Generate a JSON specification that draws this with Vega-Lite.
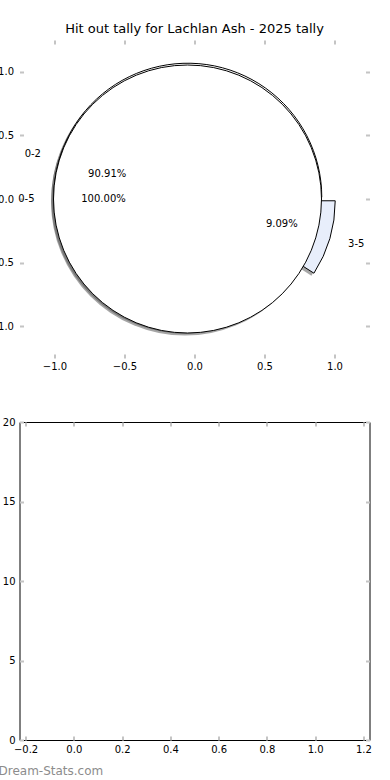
{
  "$schema": "https://vega.github.io/schema/vega-lite/v6.json",
  "autosize": {"type": "pad"},
  "padding": {"left": -11.5, "top": 23, "right": 0, "bottom": 0},
  "bounds": "flush",
  "spacing": 64,
  "title": {
    "text": "Dream-Stats.com",
    "orient": "bottom",
    "anchor": "start",
    "frame": "group",
    "dx": -21,
    "offset": 10.5,
    "font": "DejaVu Sans",
    "fontSize": 12,
    "fontWeight": "normal",
    "color": "#8c8c8c"
  },
  "datasets": {
    "split": [
      {"range": "0-2", "share": 0.9091},
      {"range": "3-5", "share": 0.0909}
    ],
    "whole": [
      {"range": "0-5", "share": 1.0}
    ]
  },
  "vconcat": [
    {
      "width": 350,
      "height": 318,
      "title": {
        "text": "Hit out tally for Lachlan Ash - 2025 tally",
        "anchor": "middle",
        "frame": "group",
        "offset": 4,
        "font": "DejaVu Sans",
        "fontSize": 13,
        "fontWeight": "normal",
        "color": "#000000"
      },
      "view": {"stroke": null},
      "encoding": {
        "theta": {
          "field": "share",
          "type": "quantitative",
          "stack": true,
          "scale": {"domain": [0, 1], "range": [1.5707963267948966, -4.71238898038469]}
        },
        "order": {"field": "range", "type": "ordinal", "sort": "ascending"}
      },
      "layer": [
        {
          "data": {"name": "split"},
          "mark": {"type": "arc", "outerRadius": 134, "fill": "#4d4d4d", "fillOpacity": 0.5, "xOffset": -2.5, "yOffset": 2.5},
          "encoding": {
            "x": {
              "datum": -0.048, "type": "quantitative",
              "scale": {"domain": [-1.25, 1.25], "nice": false, "zero": false},
              "axis": {"title": null, "values": [-1, -0.5, 0, 0.5, 1], "format": ".1f", "grid": true, "gridDash": [4, 310], "labelPadding": 3.5}
            },
            "y": {
              "datum": 0.014, "type": "quantitative",
              "scale": {"domain": [-1.25, 1.25], "nice": false, "zero": false},
              "axis": {"title": null, "values": [-1, -0.5, 0, 0.5, 1], "format": ".1f", "grid": true, "gridDash": [4, 342], "labelPadding": 6}
            },
            "opacity": {"condition": {"test": "datum.range === '0-2'", "value": 1}, "value": 0}
          }
        },
        {
          "data": {"name": "split"},
          "mark": {"type": "arc", "outerRadius": 134, "fill": "#4d4d4d", "fillOpacity": 0.5, "xOffset": -2.5, "yOffset": 2.5},
          "encoding": {
            "x": {"datum": 0.048, "type": "quantitative", "axis": {"title": null}},
            "y": {"datum": -0.014, "type": "quantitative", "axis": {"title": null}},
            "opacity": {"condition": {"test": "datum.range === '3-5'", "value": 1}, "value": 0}
          }
        },
        {
          "data": {"name": "whole"},
          "mark": {"type": "arc", "outerRadius": 134, "fill": "#4d4d4d", "fillOpacity": 0.5, "xOffset": -2.5, "yOffset": 2.5},
          "encoding": {
            "x": {"datum": -0.05, "type": "quantitative", "axis": {"title": null}},
            "y": {"datum": 0, "type": "quantitative", "axis": {"title": null}}
          }
        },
        {
          "data": {"name": "split"},
          "mark": {"type": "arc", "outerRadius": 134, "fill": "#ffffff", "stroke": "#000000", "strokeWidth": 1},
          "encoding": {
            "x": {"datum": -0.048, "type": "quantitative", "axis": {"title": null}},
            "y": {"datum": 0.014, "type": "quantitative", "axis": {"title": null}},
            "opacity": {"condition": {"test": "datum.range === '0-2'", "value": 1}, "value": 0}
          }
        },
        {
          "data": {"name": "split"},
          "mark": {"type": "arc", "outerRadius": 134, "fill": "#e8eefb", "stroke": "#000000", "strokeWidth": 1},
          "encoding": {
            "x": {"datum": 0.048, "type": "quantitative", "axis": {"title": null}},
            "y": {"datum": -0.014, "type": "quantitative", "axis": {"title": null}},
            "opacity": {"condition": {"test": "datum.range === '3-5'", "value": 1}, "value": 0}
          }
        },
        {
          "data": {"name": "whole"},
          "mark": {"type": "arc", "outerRadius": 134, "fill": "#ffffff", "stroke": "#000000", "strokeWidth": 1},
          "encoding": {
            "x": {"datum": -0.05, "type": "quantitative", "axis": {"title": null}},
            "y": {"datum": 0, "type": "quantitative", "axis": {"title": null}}
          }
        },
        {
          "data": {"name": "split"},
          "mark": {"type": "text", "radius": 153, "align": "right", "baseline": "middle", "fontSize": 10, "font": "DejaVu Sans", "color": "#000000"},
          "encoding": {
            "x": {"datum": -0.048, "type": "quantitative", "axis": {"title": null}},
            "y": {"datum": 0.014, "type": "quantitative", "axis": {"title": null}},
            "text": {"field": "range", "type": "nominal"},
            "opacity": {"condition": {"test": "datum.range === '0-2'", "value": 1}, "value": 0}
          }
        },
        {
          "data": {"name": "split"},
          "mark": {"type": "text", "radius": 84, "align": "center", "baseline": "middle", "fontSize": 10, "font": "DejaVu Sans", "color": "#000000"},
          "encoding": {
            "x": {"datum": -0.048, "type": "quantitative", "axis": {"title": null}},
            "y": {"datum": 0.014, "type": "quantitative", "axis": {"title": null}},
            "text": {"field": "share", "type": "quantitative", "format": ".2%"},
            "opacity": {"condition": {"test": "datum.range === '0-2'", "value": 1}, "value": 0}
          }
        },
        {
          "data": {"name": "split"},
          "mark": {"type": "text", "radius": 153, "align": "left", "baseline": "middle", "fontSize": 10, "font": "DejaVu Sans", "color": "#000000"},
          "encoding": {
            "x": {"datum": 0.048, "type": "quantitative", "axis": {"title": null}},
            "y": {"datum": -0.014, "type": "quantitative", "axis": {"title": null}},
            "text": {"field": "range", "type": "nominal"},
            "opacity": {"condition": {"test": "datum.range === '3-5'", "value": 1}, "value": 0}
          }
        },
        {
          "data": {"name": "split"},
          "mark": {"type": "text", "radius": 84, "align": "center", "baseline": "middle", "fontSize": 10, "font": "DejaVu Sans", "color": "#000000"},
          "encoding": {
            "x": {"datum": 0.048, "type": "quantitative", "axis": {"title": null}},
            "y": {"datum": -0.014, "type": "quantitative", "axis": {"title": null}},
            "text": {"field": "share", "type": "quantitative", "format": ".2%"},
            "opacity": {"condition": {"test": "datum.range === '3-5'", "value": 1}, "value": 0}
          }
        },
        {
          "data": {"name": "whole"},
          "mark": {"type": "text", "radius": 153, "align": "right", "baseline": "middle", "fontSize": 10, "font": "DejaVu Sans", "color": "#000000"},
          "encoding": {
            "x": {"datum": -0.05, "type": "quantitative", "axis": {"title": null}},
            "y": {"datum": 0, "type": "quantitative", "axis": {"title": null}},
            "text": {"field": "range", "type": "nominal"}
          }
        },
        {
          "data": {"name": "whole"},
          "mark": {"type": "text", "radius": 84, "align": "center", "baseline": "middle", "fontSize": 10, "font": "DejaVu Sans", "color": "#000000"},
          "encoding": {
            "x": {"datum": -0.05, "type": "quantitative", "axis": {"title": null}},
            "y": {"datum": 0, "type": "quantitative", "axis": {"title": null}},
            "text": {"field": "share", "type": "quantitative", "format": ".2%"}
          }
        }
      ]
    },
    {
      "width": 350,
      "height": 318,
      "view": {"stroke": "#000000", "strokeWidth": 1},
      "data": {"values": []},
      "mark": {"type": "point"},
      "encoding": {
        "x": {
          "field": "x", "type": "quantitative",
          "scale": {"domain": [-0.225, 1.225], "nice": false, "zero": false},
          "axis": {"title": null, "values": [-0.2, 0, 0.2, 0.4, 0.6, 0.8, 1.0, 1.2], "format": ".1f", "grid": true, "gridDash": [4, 310], "labelPadding": 4.5}
        },
        "y": {
          "field": "y", "type": "quantitative",
          "scale": {"domain": [0, 20], "nice": false, "zero": false},
          "axis": {"title": null, "values": [0, 5, 10, 15, 20], "format": "d", "grid": true, "gridDash": [4, 342], "labelPadding": 4.5}
        }
      }
    }
  ],
  "config": {
    "font": "DejaVu Sans",
    "axis": {
      "labelFont": "DejaVu Sans",
      "labelFontSize": 10,
      "labelColor": "#000000",
      "gridColor": "#c4c4c4",
      "gridWidth": 2,
      "gridOpacity": 1,
      "ticks": false,
      "domain": false,
      "labelFlush": false,
      "labelOverlap": false
    }
  }
}
